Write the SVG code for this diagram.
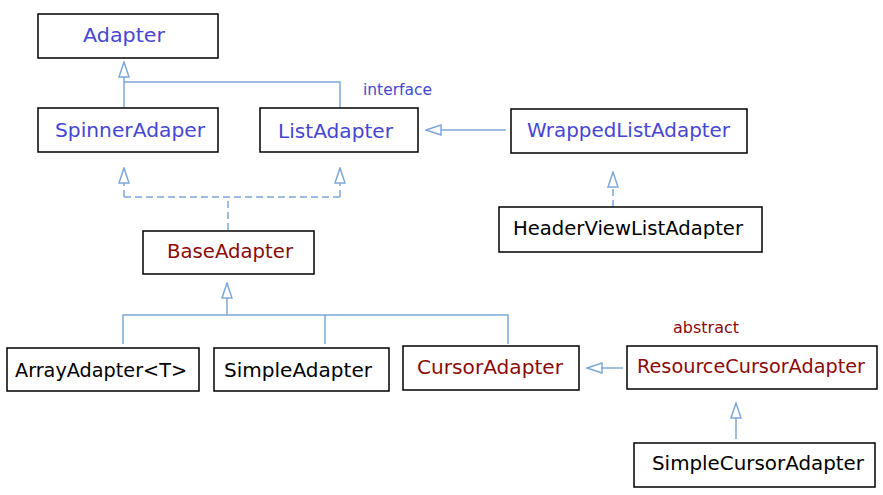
<svg xmlns="http://www.w3.org/2000/svg" width="883" height="495" viewBox="0 0 883 495">
<style>
.box{fill:#fff;stroke:#000;stroke-width:1.5}
.t{font-family:"DejaVu Sans","Liberation Sans",sans-serif;font-size:19px}
.blue{fill:#4646d2}
.red{fill:#8b0a0a}
.blk{fill:#000}
.e{fill:none;stroke:#7ea7d6;stroke-width:1.5}
.d{stroke-dasharray:7 4}
.lbl{font-family:"DejaVu Sans","Liberation Sans",sans-serif;font-size:15px}
</style>
<defs>
<marker id="tri" markerUnits="userSpaceOnUse" markerWidth="17" markerHeight="12" refX="16" refY="6" orient="auto" viewBox="0 0 17 12">
<path d="M1,1 L16,6 L1,11 Z" fill="#fff" stroke="#7ea7d6" stroke-width="1.5" stroke-dasharray="none"/>
</marker>
</defs>
<rect width="883" height="495" fill="#fff"/>
<g id="connectors">
<path class="e" d="M124,107 L124,62" marker-end="url(#tri)"/>
<path class="e" d="M340,108 L340,82 L124,82"/>
<path class="e d" d="M228,230 L228,197"/>
<path class="e d" d="M124,197 L340,197"/>
<path class="e d" d="M124,197 L124,168" marker-end="url(#tri)"/>
<path class="e d" d="M340,197 L340,168" marker-end="url(#tri)"/>
<path class="e" d="M227,315 L227,283" marker-end="url(#tri)"/>
<path class="e" d="M123,344 L123,315 L508,315 L508,344"/>
<path class="e" d="M325,315 L325,344"/>
<path class="e" d="M506,130 L426,130" marker-end="url(#tri)"/>
<path class="e d" d="M613,207 L613,172" marker-end="url(#tri)"/>
<path class="e" d="M623,368 L587,368" marker-end="url(#tri)"/>
<path class="e" d="M736,439 L736,403" marker-end="url(#tri)"/>
</g>
<g id="Adapter">
<rect class="box" x="38" y="14" width="180" height="44"/>
<text class="t blue" x="83" y="42" textLength="82" lengthAdjust="spacingAndGlyphs">Adapter</text>
</g>
<g id="SpinnerAdaper">
<rect class="box" x="38" y="108" width="180" height="44"/>
<text class="t blue" x="55" y="137" textLength="150" lengthAdjust="spacingAndGlyphs">SpinnerAdaper</text>
</g>
<g id="ListAdapter">
<rect class="box" x="260" y="108" width="158" height="44"/>
<text class="t blue" x="278" y="138" textLength="115" lengthAdjust="spacingAndGlyphs">ListAdapter</text>
<text class="lbl blue" x="363" y="95" textLength="69" lengthAdjust="spacingAndGlyphs">interface</text>
</g>
<g id="WrappedListAdapter">
<rect class="box" x="511" y="109" width="236" height="44"/>
<text class="t blue" x="527" y="137" textLength="203" lengthAdjust="spacingAndGlyphs">WrappedListAdapter</text>
</g>
<g id="HeaderViewListAdapter">
<rect class="box" x="499" y="207" width="263" height="45"/>
<text class="t blk" x="513" y="235" textLength="230" lengthAdjust="spacingAndGlyphs">HeaderViewListAdapter</text>
</g>
<g id="BaseAdapter">
<rect class="box" x="143" y="231" width="171" height="43"/>
<text class="t red" x="167" y="258" textLength="126" lengthAdjust="spacingAndGlyphs">BaseAdapter</text>
</g>
<g id="ArrayAdapter">
<rect class="box" x="7" y="348" width="192" height="43"/>
<text class="t blk" x="15" y="377" textLength="172" lengthAdjust="spacingAndGlyphs">ArrayAdapter&lt;T&gt;</text>
</g>
<g id="SimpleAdapter">
<rect class="box" x="214" y="348" width="175" height="43"/>
<text class="t blk" x="224" y="377" textLength="148" lengthAdjust="spacingAndGlyphs">SimpleAdapter</text>
</g>
<g id="CursorAdapter">
<rect class="box" x="403" y="346" width="176" height="44"/>
<text class="t red" x="417" y="374" textLength="146" lengthAdjust="spacingAndGlyphs">CursorAdapter</text>
</g>
<g id="ResourceCursorAdapter">
<rect class="box" x="627" y="346" width="250" height="43"/>
<text class="t red" x="637" y="373" textLength="228" lengthAdjust="spacingAndGlyphs">ResourceCursorAdapter</text>
<text class="lbl red" x="673" y="333" textLength="66" lengthAdjust="spacingAndGlyphs">abstract</text>
</g>
<g id="SimpleCursorAdapter">
<rect class="box" x="634" y="443" width="241" height="44"/>
<text class="t blk" x="652" y="470" textLength="212" lengthAdjust="spacingAndGlyphs">SimpleCursorAdapter</text>
</g>
</svg>
